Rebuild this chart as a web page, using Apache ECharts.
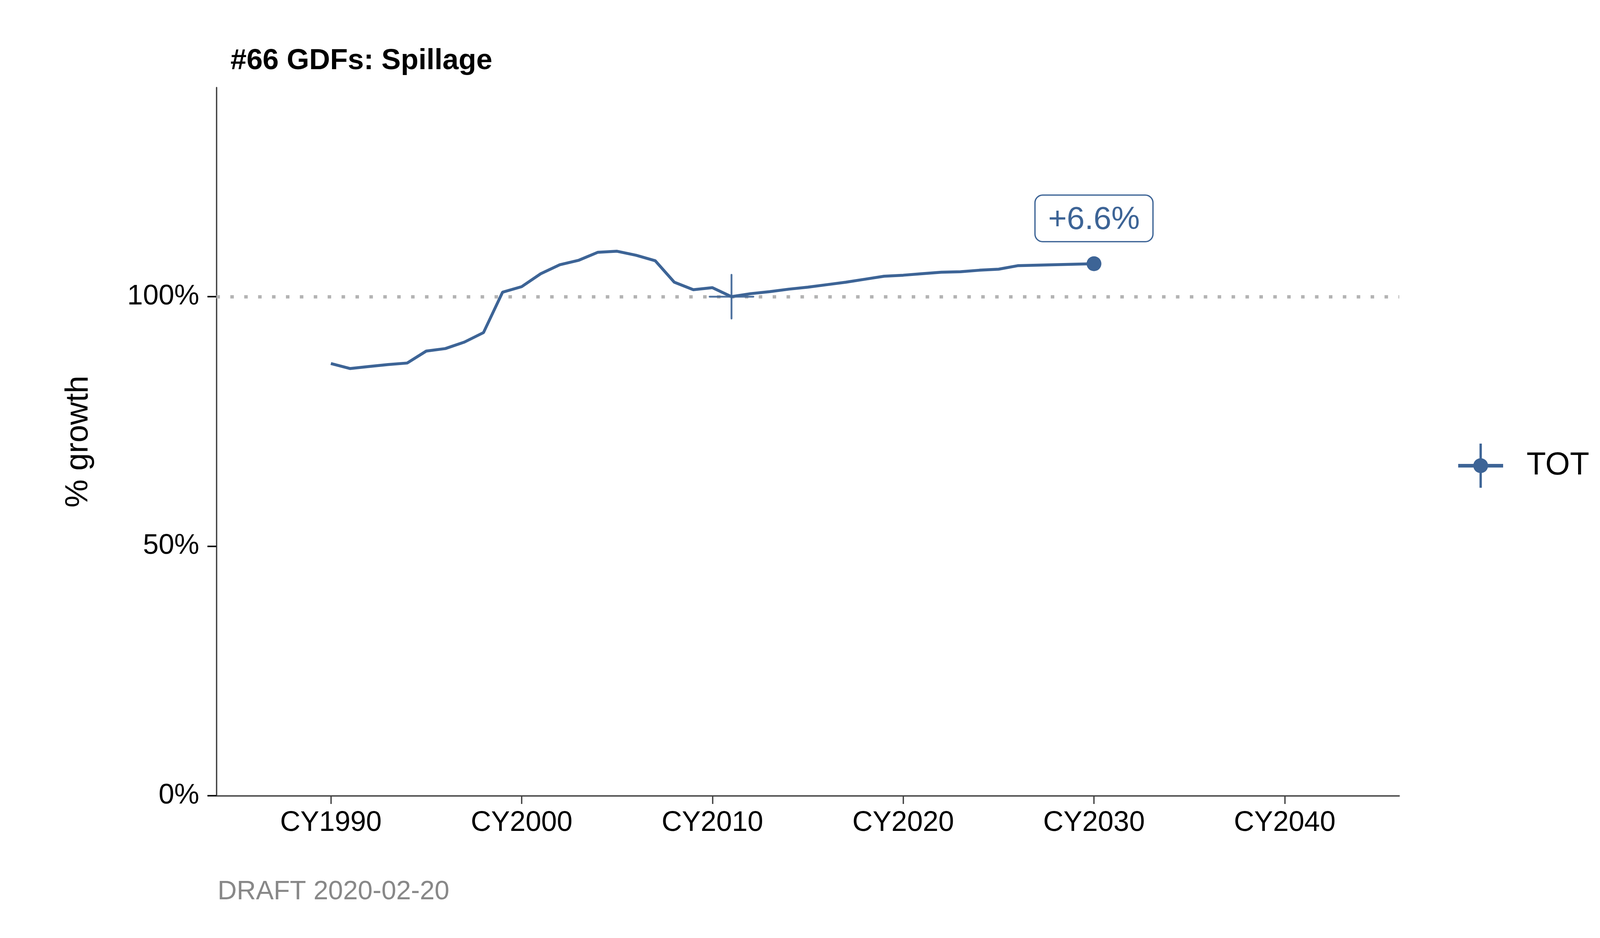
<!DOCTYPE html>
<html>
<head>
<meta charset="utf-8">
<script src="https://cdn.jsdelivr.net/npm/echarts@6/dist/echarts.min.js"></script>
<style>
  html, body { margin: 0; padding: 0; background: #fff; }
  #main { width: 4200px; height: 2400px; }
</style>
</head>
<body>
<div id="main"></div>
<script>
// values (index, base year 2011 = 100%)
const years = [1990, 1991, 1992, 1993, 1994, 1995, 1996, 1997, 1998, 1999,
  2000, 2001, 2002, 2003, 2004, 2005, 2006, 2007, 2008, 2009, 2010,
  2011, 2012, 2013, 2014, 2015, 2016, 2017, 2018, 2019, 2020,
  2021, 2022, 2023, 2024, 2025, 2026, 2027, 2028, 2029, 2030];
const totValues = [86.6, 85.6, 86.0, 86.4, 86.7, 89.1, 89.6, 90.9, 92.8, 100.9,
  102.0, 104.6, 106.4, 107.3, 108.9, 109.1, 108.3, 107.2, 102.9, 101.4, 101.8,
  100.0, 100.6, 101.0, 101.5, 101.9, 102.4, 102.9, 103.5, 104.1, 104.3,
  104.6, 104.9, 105.0, 105.3, 105.5, 106.2, 106.3, 106.4, 106.5, 106.6];
const baseYear = 2011;
const baseValue = 100;
const xTicks = [1990, 2000, 2010, 2020, 2030, 2040];
const yTicks = [0, 50, 100];

const blue = '#3d6496';
const font = 'Liberation Sans';

let myChart = echarts.init(document.getElementById('main'));

let lastIdx = years.length - 1;
let growth = totValues[lastIdx] - baseValue;
let growthText = (growth >= 0 ? '+' : '') + growth.toFixed(1) + '%';

let lineData = years.map(function (y, i) {
    if (i === lastIdx) {
        return {
            value: [y, totValues[i]],
            label: {
                show: true,
                position: 'top',
                distance: 39,
                formatter: growthText,
                fontFamily: font,
                fontSize: 82,
                color: blue,
                backgroundColor: '#fff',
                borderColor: blue,
                borderWidth: 3.3,
                borderRadius: 18,
                padding: [22, 32, 12, 32]
            }
        };
    }
    return [y, totValues[i]];
});

// legend key: cross with a dot, like the reference
const legendIcon = 'path://M0,51.9 h115 v9.3 h-115 Z M54.5,0 h6 v113 h-6 Z M38.5,56.5 a19,19 0 1,1 38,0 a19,19 0 1,1 -38,0 Z';

let option = {
    animation: false,
    backgroundColor: '#fff',
    title: [{
        text: '#66 GDFs: Spillage',
        left: 590,
        top: 120,
        padding: 0,
        textStyle: { fontFamily: font, fontSize: 74, fontWeight: 'bold', color: '#000' }
    }, {
        text: 'DRAFT 2020-02-20',
        left: 557,
        top: 2248,
        padding: 0,
        textStyle: { fontFamily: font, fontSize: 68, fontWeight: 'normal', color: '#888888' }
    }],
    legend: {
        left: 3733,
        top: 1135,
        orient: 'vertical',
        padding: 0,
        itemWidth: 115,
        itemHeight: 113,
        itemGap: 0,
        icon: legendIcon,
        textStyle: { fontFamily: font, fontSize: 81, color: '#000', padding: [0, 0, 0, 55] },
        data: [{ name: 'TOT', itemStyle: { color: blue } }]
    },
    grid: { left: 554, right: 618, top: 224, bottom: 364, containLabel: false },
    xAxis: {
        type: 'value',
        min: 1984,
        max: 2046,
        splitLine: { show: false },
        axisLine: { show: true, lineStyle: { color: '#404040', width: 3.4 } },
        axisTick: { show: true, length: 21, lineStyle: { color: '#404040', width: 3.4 }, customValues: xTicks },
        axisLabel: {
            customValues: xTicks,
            formatter: function (v) { return 'CY' + v; },
            fontFamily: font, fontSize: 72, color: '#000', margin: 34
        }
    },
    yAxis: {
        type: 'value',
        min: 0,
        max: 141.9,
        name: '% growth',
        nameLocation: 'middle',
        nameRotate: 90,
        nameGap: 312,
        nameTextStyle: { fontFamily: font, fontSize: 81, color: '#000' },
        splitLine: { show: false },
        axisLine: { show: true, lineStyle: { color: '#404040', width: 3.4 } },
        axisTick: { show: true, length: 23, lineStyle: { color: '#111', width: 4 }, customValues: yTicks },
        axisLabel: {
            customValues: yTicks,
            formatter: function (v) { return v + '%'; },
            fontFamily: font, fontSize: 72, color: '#000', margin: 44
        }
    },
    series: [{
        name: 'TOT',
        type: 'line',
        data: lineData,
        color: blue,
        lineStyle: { color: blue, width: 7.5 },
        symbol: function (v, p) { return p.dataIndex === lastIdx ? 'circle' : 'none'; },
        symbolSize: 38,
        showSymbol: true,
        itemStyle: { color: blue },
        z: 3,
        markLine: {
            silent: true,
            symbol: 'none',
            label: { show: false },
            lineStyle: { color: '#b3b3b3', width: 8.5, type: [9, 26.6] },
            data: [{ yAxis: baseValue }],
            z: 1
        }
    }, {
        name: 'base',
        type: 'custom',
        data: [[baseYear, baseValue]],
        z: 4,
        renderItem: function (params, api) {
            let c = api.coord([api.value(0), api.value(1)]);
            let h = 56;
            let style = { stroke: blue, lineWidth: 4.7, lineCap: 'round', opacity: 0.9 };
            return {
                type: 'group',
                children: [
                    { type: 'line', shape: { x1: c[0] - h, y1: c[1], x2: c[0] + h, y2: c[1] }, style: style },
                    { type: 'line', shape: { x1: c[0], y1: c[1] - h, x2: c[0], y2: c[1] + h }, style: style }
                ]
            };
        }
    }]
};

myChart.setOption(option);
</script>
</body>
</html>
